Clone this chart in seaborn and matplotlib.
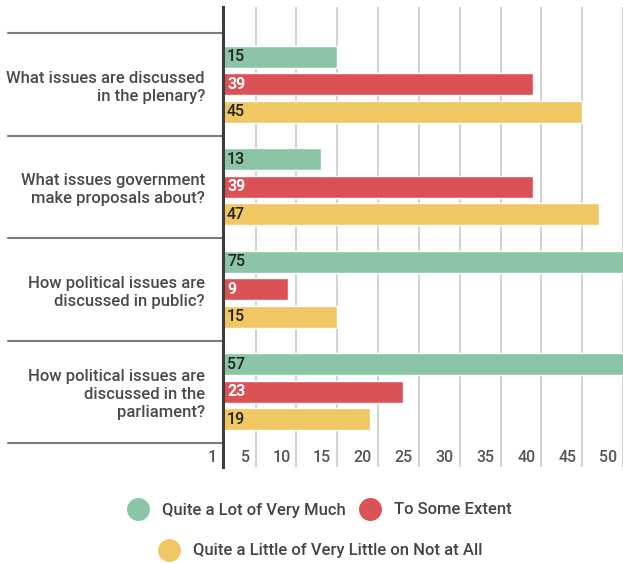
import matplotlib
matplotlib.use("Agg")
import matplotlib.pyplot as plt
import matplotlib.transforms as mtransforms
from matplotlib.lines import Line2D
import pandas as pd
import seaborn as sns

# Survey questions (wrapped as shown on the axis)
questions = [
    "What issues are discussed\nin the plenary?",
    "What issues government\nmake proposals about?",
    "How political issues are\ndiscussed in public?",
    "How political issues are\ndiscussed in the\nparliament?",
]
responses = [
    "Quite a Lot of Very Much",
    "To Some Extent",
    "Quite a Little of Very Little on Not at All",
]
lot_values = [15, 13, 75, 57]
some_values = [39, 39, 9, 23]
little_values = [45, 47, 15, 19]
tick_values = [1, 5, 10, 15, 20, 25, 30, 35, 40, 45, 50]

colors = ["#8cc5a6", "#db5156", "#f0c863"]
label_colors = ["#222222", "#ffffff", "#222222"]

df = pd.DataFrame({
    "question": questions * 3,
    "response": [responses[0]] * 4 + [responses[1]] * 4 + [responses[2]] * 4,
    "value": lot_values + some_values + little_values,
})

sns.set_theme(style="white")
plt.rcParams["font.family"] = ["Roboto", "DejaVu Sans"]

fig = plt.figure(figsize=(6.23, 5.63), dpi=100)
ax = fig.add_axes([223 / 623, 1 - 467 / 563, 400 / 623, 460 / 563])

sns.barplot(data=df, x="value", y="question", hue="response", orient="h",
            palette=colors, width=0.8, gap=0.2, saturation=1, ax=ax,
            legend=False, zorder=2)

x_left = 1
x_right = 1 + 400 / 8.265
ax.set_xlim(x_left, x_right)
ax.set_ylim(3.5 + 24 / 102.5, -0.5 - 26 / 102.5)
ax.set_xlabel("")
ax.set_ylabel("")

# vertical grid at the tick values, behind the bars
ax.set_xticks(tick_values)
ax.set_axisbelow(True)
ax.xaxis.grid(True, color="#cfcfcf", linewidth=1.3)
ax.yaxis.grid(False)
ax.tick_params(axis="x", length=0, labelbottom=False)
ax.tick_params(axis="y", length=0, pad=13, labelsize=12, labelcolor="#4a4a4a")
for lab in ax.get_yticklabels():
    lab.set_fontweight("medium")
    lab.set_multialignment("right")
    lab.set_linespacing(1.25)

for side in ["top", "right", "bottom"]:
    ax.spines[side].set_visible(False)
ax.spines["left"].set_color("#3d3d3d")
ax.spines["left"].set_linewidth(2.2)
ax.spines["left"].set_zorder(5)

# x tick labels sit just left of their gridline, inside the plot area
tick_trans = mtransforms.offset_copy(
    mtransforms.blended_transform_factory(ax.transData, ax.transAxes),
    fig=fig, x=-6, y=0, units="dots")
for v in tick_values:
    ax.text(v, 9 / 460, str(v), transform=tick_trans, ha="right", va="center",
            fontsize=11.5, color="#555555", fontweight="medium")

# separators between question groups, running from the labels to the axis
sep_trans = mtransforms.blended_transform_factory(ax.transAxes, ax.transData)
for b in [-0.5, 0.5, 1.5, 2.5, 3.5]:
    ax.plot([-215 / 400, 0], [b, b], transform=sep_trans, color="#7a7a7a",
            linewidth=1.5, clip_on=False, zorder=4)

# value labels at the start of each bar
lab_trans = mtransforms.offset_copy(ax.transData, fig=fig, x=4, y=0, units="dots")
for container, tc in zip(ax.containers, label_colors):
    for patch in container.patches:
        yc = patch.get_y() + patch.get_height() / 2
        ax.text(x_left, yc, f"{patch.get_width():.0f}", transform=lab_trans,
                ha="left", va="center", fontsize=11.5, color=tc,
                fontweight="bold" if tc == "#ffffff" else "medium", zorder=6)

# legend: two items on the first row, one centred below
handles = [Line2D([], [], linestyle="none", marker="o", markersize=15.5,
                  markerfacecolor=c, markeredgecolor=c, label=r)
           for c, r in zip(colors, responses)]
leg_kw = dict(loc="center", frameon=False, handlelength=1.4, handletextpad=0.7,
              columnspacing=0.8, prop={"size": 12, "weight": "medium"},
              labelcolor="#444444")
fig.legend(handles=handles[:2], ncol=2, bbox_to_anchor=(319 / 623, 1 - 510 / 563), **leg_kw)
fig.legend(handles=handles[2:], ncol=1, bbox_to_anchor=(320 / 623, 1 - 551 / 563), **leg_kw)

fig.savefig("out.png", dpi=100, facecolor="white")
